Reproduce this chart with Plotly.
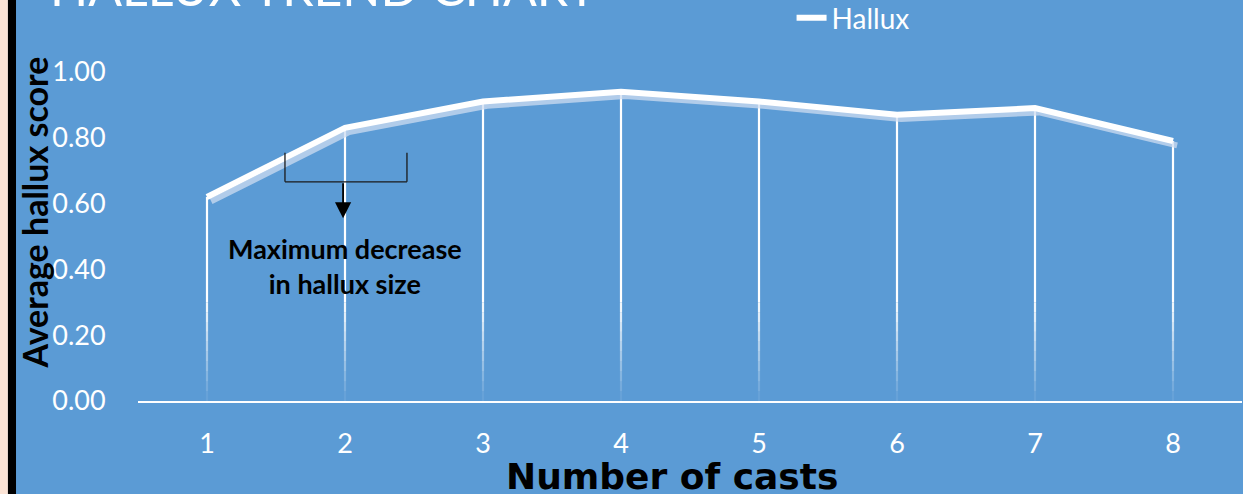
import numpy as np
import plotly.graph_objects as go

# ---- data ----
casts = [1, 2, 3, 4, 5, 6, 7, 8]
hallux = [0.62, 0.83, 0.91, 0.94, 0.91, 0.87, 0.89, 0.79]
y_ticks = [0.0, 0.2, 0.4, 0.6, 0.8, 1.0]

BG = "#5B9BD5"
FONT = "Lato"

fig = go.Figure()

# drop lines from each point to the axis (solid upper part, fading lower part)
fade_top = 0.30
xs, ys = [], []
for c, v in zip(casts, hallux):
    xs += [c, c, None]
    ys += [v, fade_top, None]
fig.add_trace(go.Scatter(x=xs, y=ys, mode="lines", showlegend=False, hoverinfo="skip",
                         line=dict(color="rgba(255,255,255,1)", width=2.2)))
levels = np.linspace(fade_top, 0, 11)
for i in range(10):
    a = 1 - (i + 1) / 10 * 0.92
    xs, ys = [], []
    for c in casts:
        xs += [c, c, None]
        ys += [levels[i], levels[i + 1], None]
    fig.add_trace(go.Scatter(x=xs, y=ys, mode="lines", showlegend=False, hoverinfo="skip",
                             line=dict(color=f"rgba(255,255,255,{a:.2f})", width=2.2)))

# soft shadow of the main line
fig.add_trace(go.Scatter(x=[c + 0.03 for c in casts], y=[v - 0.013 for v in hallux],
                         mode="lines", showlegend=False, hoverinfo="skip",
                         line=dict(color="rgba(205,220,240,0.75)", width=6)))
# main line
fig.add_trace(go.Scatter(x=casts, y=hallux, mode="lines", name="Hallux",
                         line=dict(color="white", width=6)))

# bracket annotation
br_x0, br_x1, br_top, br_bot = 1.565, 2.449, 0.754, 0.666
line_k = dict(color="#1a1a1a", width=1.3)
fig.add_shape(type="line", x0=br_x0, x1=br_x0, y0=br_top, y1=br_bot, xref="x", yref="y", line=line_k)
fig.add_shape(type="line", x0=br_x1, x1=br_x1, y0=br_top, y1=br_bot, xref="x", yref="y", line=line_k)
fig.add_shape(type="line", x0=br_x0, x1=br_x1, y0=br_bot, y1=br_bot, xref="x", yref="y", line=line_k)
fig.add_annotation(x=1.986, y=0.555, ax=1.986, ay=br_bot, xref="x", yref="y", axref="x", ayref="y",
                   showarrow=True, arrowhead=2, arrowsize=1.8, arrowwidth=1.8, arrowcolor="black", text="")
fig.add_annotation(x=2.0, y=0.41, xref="x", yref="y", xanchor="center", yanchor="middle", showarrow=False,
                   text="<b>Maximum decrease<br>in hallux size</b>",
                   font=dict(family=FONT, size=27, color="black"), align="center")

# left decorative strips
fig.add_shape(type="rect", xref="paper", yref="paper", x0=-0.13, x1=-0.1178, y0=-0.3, y1=1.2,
              fillcolor="#FCE4D6", line=dict(width=0), layer="above")
fig.add_shape(type="rect", xref="paper", yref="paper", x0=-0.1178, x1=-0.1105, y0=-0.3, y1=1.2,
              fillcolor="black", line=dict(width=0), layer="above")

# axis titles
fig.add_annotation(x=-0.0935, y=0.52, xref="paper", yref="paper", xanchor="center", yanchor="middle",
                   textangle=-90, showarrow=False,
                   text="<b>Average hallux score</b>", font=dict(family=FONT, size=34, color="black"))
fig.add_annotation(x=0.484, y=-0.208, xref="paper", yref="paper", xanchor="center", yanchor="middle",
                   showarrow=False, text="<b>Number of casts</b>",
                   font=dict(family="DejaVu Sans", size=36, color="black"))

fig.update_layout(
    width=1243, height=494,
    margin=dict(l=138, r=1, t=39, b=93, autoexpand=False),
    paper_bgcolor=BG, plot_bgcolor=BG,
    font=dict(family=FONT, color="white"),
    # chart title, mostly cut off by the top edge as in the original
    title=dict(text="HALLUX TREND CHART", xref="container", yref="container",
               x=50 / 1243, xanchor="left", y=0.988, yanchor="bottom",
               pad=dict(t=0, b=0, l=0, r=0),
               font=dict(family=FONT, size=50, color="white")),
    legend=dict(orientation="h", x=0.592, y=1.058, xanchor="left", yanchor="middle",
                bgcolor="rgba(0,0,0,0)", font=dict(size=28, color="white", family=FONT)),
    xaxis=dict(range=[0.5, 8.5], tickmode="array", tickvals=casts, ticktext=[str(c) for c in casts],
               showgrid=False, zeroline=False, showline=True, linecolor="white", linewidth=2,
               ticks="outside", ticklen=18, tickcolor="rgba(0,0,0,0)",
               tickfont=dict(size=27, color="white", family=FONT)),
    yaxis=dict(range=[0, 1.1], tickmode="array", tickvals=y_ticks,
               ticktext=[f"{t:.2f}" for t in y_ticks],
               showgrid=False, zeroline=False, showline=False,
               ticks="outside", ticklen=26, tickcolor="rgba(0,0,0,0)",
               tickfont=dict(size=27, color="white", family=FONT)),
)

fig.write_html("out.html")
